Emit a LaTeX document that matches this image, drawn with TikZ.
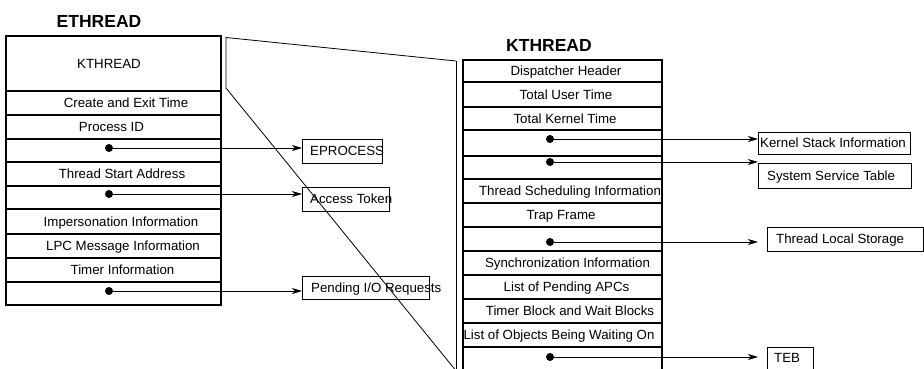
\documentclass[tikz,border=0pt]{standalone}
\usepackage{fontspec}
\setmainfont{Liberation Sans}
\usetikzlibrary{arrows.meta}
\begin{document}
\begin{tikzpicture}[x=1pt,y=-1pt,
  rowbox/.style={draw=black, line width=1.5pt, inner sep=0pt},
  rowtext/.style={font=\fontsize{13.3}{15}\selectfont, anchor=base, inner sep=0pt},
  lefttext/.style={font=\fontsize{13.3}{15}\selectfont, anchor=base west, inner sep=0pt},
  title/.style={font=\bfseries\fontsize{17.5}{20}\selectfont, anchor=base, inner sep=0pt},
  target/.style={draw, line width=0.9pt, inner sep=0pt, anchor=north west},
  ptr/.style={circle, fill, inner sep=0pt, minimum size=8pt},
  link/.style={line width=1pt, -{Stealth[length=10pt,width=6pt,inset=3pt]}},
  frame/.style={line width=0.8pt}]
\useasboundingbox (0,0) rectangle (924,369);

% titles
\node[title] (ethT) at (99,27.3) {ETHREAD};
\node[title] (kthT) at (549,51.7) {KTHREAD};

% ETHREAD layout: index/top/bottom/text x/text
\foreach \i/\t/\b/\cx/\txt in {
  0/36/91/109/KTHREAD,
  1/91/115/126/Create and Exit Time,
  2/115/139/111.5/Process ID,
  4/162/186/122/Thread Start Address,
  6/209/234/121/Impersonation Information,
  7/234/258/123/LPC Message Information,
  8/258/282/122.5/Timer Information}{
  \pgfmathsetmacro\h{\b-\t}
  \pgfmathsetmacro\cy{(\t+\b)/2}
  \node[rowbox, minimum width=215pt, minimum height=\h pt] (e\i) at (113.5,\cy) {};
  \node[rowtext] (et\i) at (\cx,{\cy+4.8}) {\txt};
}
% ETHREAD pointer slots
\foreach \i/\t/\b in {3/139/162, 5/186/209, 9/282/305}{
  \pgfmathsetmacro\h{\b-\t}
  \pgfmathsetmacro\cy{(\t+\b)/2}
  \node[rowbox, minimum width=215pt, minimum height=\h pt] (e\i) at (113.5,\cy) {};
}

% KTHREAD layout
\foreach \i/\t/\b/\cx/\txt in {
  0/60/82/566/Dispatcher Header,
  1/82/107/566/Total User Time,
  2/107/130/565/Total Kernel Time,
  5/179/203/570/Thread Scheduling Information,
  6/203/227/561/Trap Frame,
  8/251/275/567.5/Synchronization Information,
  9/275/299/566.5/List of Pending APCs,
  10/299/323/570/Timer Block and Wait Blocks,
  11/323/347/559/List of Objects Being Waiting On}{
  \pgfmathsetmacro\h{\b-\t}
  \pgfmathsetmacro\cy{(\t+\b)/2}
  \node[rowbox, minimum width=199pt, minimum height=\h pt] (k\i) at (562.5,\cy) {};
  \node[rowtext] (kt\i) at (\cx,{\cy+4.8}) {\txt};
}
\foreach \i/\t/\b in {3/130/156, 4/156/179, 7/227/251, 12/347/371}{
  \pgfmathsetmacro\h{\b-\t}
  \pgfmathsetmacro\cy{(\t+\b)/2}
  \node[rowbox, minimum width=199pt, minimum height=\h pt] (k\i) at (562.5,\cy) {};
}

% expansion frame from the embedded KTHREAD
\coordinate (z1) at (226,37.5);
\coordinate (z2) at (456,61);
\coordinate (z3) at (226,88);
\coordinate (z4) at (457,372);
\coordinate (z5) at (456,372);
\draw[frame] (z2) -- (z1) -- (z3) -- (z4);
\draw[frame] (z2) -- (z5);

% referenced objects
\node[target, minimum width=80pt, minimum height=24pt] (eproc) at (302,139) {};
\node[lefttext] (eprocT) at (310,155.8) {EPROCESS};
\node[target, minimum width=87pt, minimum height=24pt] (tok) at (302,187) {};
\node[lefttext] (tokT) at (310,203.8) {Access Token};
\node[target, minimum width=127pt, minimum height=23pt] (pio) at (302,276) {};
\node[lefttext] (pioT) at (311,292.3) {Pending I/O Requests};
\node[target, minimum width=152pt, minimum height=22pt] (ksi) at (758,132) {};
\node[lefttext] (ksiT) at (760,147.8) {Kernel Stack Information};
\node[target, minimum width=153pt, minimum height=25pt] (sst) at (758,163) {};
\node[lefttext] (sstT) at (767,180.3) {System Service Table};
\node[target, minimum width=156pt, minimum height=24pt] (tls) at (767,227) {};
\node[lefttext] (tlsT) at (776,243.8) {Thread Local Storage};
\node[target, minimum width=46pt, minimum height=26pt] (teb) at (767,347) {};
\node[lefttext] (tebT) at (774,362) {TEB};

% pointers
\node[ptr] (p1) at (109,148) {};
\node[ptr] (p2) at (109,194) {};
\node[ptr] (p3) at (109,291) {};
\node[ptr] (q1) at (550,139) {};
\node[ptr] (q2) at (550,162) {};
\node[ptr] (q3) at (550,242) {};
\node[ptr] (q4) at (550,357) {};

\draw[link] (p1) -- (p1 -| eproc.west);
\draw[link] (p2) -- (p2 -| tok.west);
\draw[link] (p3) -- (p3 -| pio.west);
\draw[link] (q1) -- (q1 -| ksi.west);
\draw[link] (q2) -- (q2 -| sst.west);
\draw[link, shorten >=9pt] (q3) -- (q3 -| tls.west);
\draw[link, shorten >=9pt] (q4) -- (q4 -| teb.west);
\end{tikzpicture}
\end{document}
